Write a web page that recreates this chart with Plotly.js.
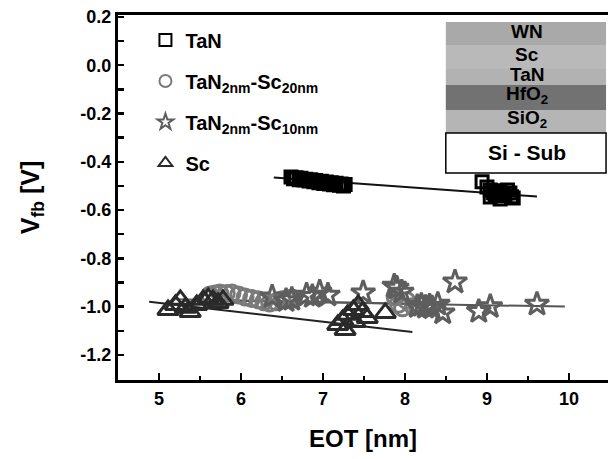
<!DOCTYPE html>
<html>
<head>
<meta charset="utf-8">
<script src="https://cdn.plot.ly/plotly-3.0.1.min.js"></script>
<style>html,body{margin:0;padding:0;background:#fff;}#chart{width:608px;height:459px;}</style>
</head>
<body>
<div id="chart"></div>
<script>
// TaN (squares)
const tanX = [6.61, 6.64, 6.67, 6.71, 6.73, 6.77, 6.79, 6.83, 6.85, 6.89, 6.91, 6.95, 6.98, 7.01, 7.04, 7.08, 7.10, 7.13, 7.16, 7.20, 7.22, 7.25, 7.27,
              8.94, 9.00, 9.04, 9.04, 9.08, 9.10, 9.13, 9.16, 9.16, 9.20, 9.22, 9.25, 9.28, 9.30, 9.32];
const tanY = [-0.463, -0.470, -0.466, -0.474, -0.468, -0.476, -0.472, -0.480, -0.474, -0.483, -0.478, -0.487, -0.481, -0.490, -0.484, -0.492, -0.487, -0.495, -0.489, -0.497, -0.492, -0.500, -0.494,
              -0.483, -0.505, -0.517, -0.546, -0.528, -0.537, -0.520, -0.525, -0.554, -0.535, -0.541, -0.517, -0.529, -0.545, -0.550];
// TaN2nm-Sc20nm (circles)
const sc20X = [5.62, 5.68, 5.74, 5.82, 5.89, 5.97, 6.05, 6.13, 6.21, 6.28, 6.35, 6.43, 6.50, 6.56, 6.62, 7.88, 7.92, 7.97, 8.02, 8.10, 8.18, 8.25];
const sc20Y = [-0.952, -0.948, -0.944, -0.946, -0.944, -0.952, -0.960, -0.966, -0.972, -0.980, -0.985, -0.980, -0.972, -0.968, -0.964, -0.960, -0.990, -1.005, -0.975, -1.000, -0.995, -0.990];
// TaN2nm-Sc10nm (stars)
const sc10X = [6.38, 6.55, 6.62, 6.80, 6.87, 6.96, 7.06, 7.49, 7.87, 7.90, 7.96, 8.15, 8.20, 8.25, 8.30, 8.33, 8.40, 8.46, 8.61, 8.90, 9.04, 9.61];
const sc10Y = [-0.960, -0.975, -0.970, -0.952, -0.958, -0.940, -0.952, -0.943, -0.915, -0.923, -0.940, -1.000, -0.995, -1.003, -0.998, -1.005, -0.990, -1.026, -0.898, -1.020, -1.000, -0.990];
// Sc (triangles)
const scX = [5.11, 5.20, 5.26, 5.32, 5.38, 5.46, 5.54, 5.60, 5.66, 5.72, 5.78, 7.18, 7.24, 7.27, 7.30, 7.37, 7.39, 7.43, 7.48, 7.54, 7.76];
const scY = [-1.014, -0.993, -0.972, -1.005, -1.022, -0.993, -0.972, -0.964, -0.972, -0.985, -0.972, -1.076, -1.055, -1.097, -1.034, -1.014, -1.064, -0.993, -1.022, -1.047, -1.026];
// fit lines
const fitTanX = [6.40, 9.61];
const fitTanY = [-0.465, -0.544];
const fitSc20X = [5.20, 8.40];
const fitSc20Y = [-0.97, -0.99];
const fitSc10X = [5.80, 9.95];
const fitSc10Y = [-0.975, -1.00];
const fitScX = [4.88, 8.09];
const fitScY = [-0.98, -1.105];
// tick labels
const yTickVals = [0.2, 0.0, -0.2, -0.4, -0.6, -0.8, -1.0, -1.2];
const yTickText = ['0.2', '0.0', '-0.2', '-0.4', '-0.6', '-0.8', '-1.0', '-1.2'];
const xTickVals = [5, 6, 7, 8, 9, 10];
const xTickText = ['5', '6', '7', '8', '9', '10'];
// stack inset labels
const stackLabels = ['WN', 'Sc', 'TaN', 'HfO<sub>2</sub>', 'SiO<sub>2</sub>', 'Si - Sub'];
const stackColors = ['#a9a9a9', '#b9b9b9', '#b2b2b2', '#727272', '#b5b5b5', '#ffffff'];
const stackBounds = [0.981, 0.918, 0.852, 0.808, 0.740, 0.677, 0.567];

const F = 'Liberation Sans, Arial, sans-serif';
const mk = (sym, col, size) => ({symbol: sym, size: size, color: col, line: {color: col, width: 3}});

const traces = [
  {x: fitTanX, y: fitTanY, mode: 'lines', line: {color: '#111', width: 2}, showlegend: false, hoverinfo: 'skip'},
  {x: fitSc20X, y: fitSc20Y, mode: 'lines', line: {color: '#666', width: 2}, showlegend: false, hoverinfo: 'skip'},
  {x: fitSc10X, y: fitSc10Y, mode: 'lines', line: {color: '#555', width: 2}, showlegend: false, hoverinfo: 'skip'},
  {x: fitScX, y: fitScY, mode: 'lines', line: {color: '#222', width: 2}, showlegend: false, hoverinfo: 'skip'},
  {x: tanX, y: tanY, mode: 'markers', name: 'TaN', legendgroup: 'a', marker: mk('square-open', '#000', 12)},
  {x: sc20X, y: sc20Y, mode: 'markers', name: 'TaN<sub>2nm</sub>-Sc<sub>20nm</sub>', legendgroup: 'b', marker: mk('circle-open', '#7a7a7a', 16)},
  {x: sc10X, y: sc10Y, mode: 'markers', name: 'TaN<sub>2nm</sub>-Sc<sub>10nm</sub>', legendgroup: 'c', marker: mk('star-open', '#5e5e5e', 18)},
  {x: scX, y: scY, mode: 'markers', name: 'Sc', legendgroup: 'd', marker: mk('triangle-up-open', '#2a2a2a', 18)}
];

const shapes = [];
const annotations = [];
for (let i = 0; i < stackLabels.length; i++) {
  const last = i === stackLabels.length - 1;
  shapes.push({type: 'rect', xref: 'paper', yref: 'paper', x0: 0.669, x1: 0.996,
    y0: stackBounds[i + 1], y1: stackBounds[i], fillcolor: stackColors[i],
    line: {color: last ? '#000' : stackColors[i], width: last ? 1.5 : 0}, layer: 'above'});
  annotations.push({xref: 'paper', yref: 'paper', x: 0.835, y: (stackBounds[i] + stackBounds[i + 1]) / 2 + (last ? 0 : 0.006),
    text: '<b>' + stackLabels[i] + '</b>', showarrow: false, font: {family: F, size: last ? 21 : 19, color: '#000'},
    xanchor: 'center', yanchor: 'middle'});
}

const layout = {
  width: 608, height: 459,
  margin: {l: 118, r: 0, t: 15, b: 79},
  paper_bgcolor: '#fff', plot_bgcolor: '#fff',
  font: {family: F, color: '#000'},
  xaxis: {range: [4.5, 10.476], tickmode: 'array', tickvals: xTickVals, ticktext: xTickText,
    ticks: 'inside', ticklen: 7, tickwidth: 2.5, tickcolor: '#000',
    showline: true, linewidth: 3, linecolor: '#000', mirror: true, showgrid: false, zeroline: false,
    minor: {dtick: 0.5, tick0: 5, ticks: 'inside', ticklen: 4, tickwidth: 2.5, tickcolor: '#000'},
    tickfont: {family: F, size: 18, color: '#000', weight: 'bold'},
    title: {text: '<b>EOT [nm]</b>', font: {family: F, size: 24, color: '#000'}, standoff: 23}},
  yaxis: {range: [-1.304, 0.208], tickmode: 'array', tickvals: yTickVals, ticktext: yTickText,
    ticks: 'inside', ticklen: 6, tickwidth: 2.5, tickcolor: '#000',
    showline: true, linewidth: 3, linecolor: '#000', mirror: true, showgrid: false, zeroline: false,
    minor: {dtick: 0.1, tick0: 0, ticks: 'inside', ticklen: 6, tickwidth: 2.5, tickcolor: '#000'},
    tickfont: {family: F, size: 18, color: '#000', weight: 'bold'},
    title: {text: '<b>V<sub>fb</sub> [V]</b>', font: {family: F, size: 25, color: '#000'}, standoff: 34}},
  showlegend: true,
  legend: {x: 0.056, y: 0.985, xanchor: 'left', yanchor: 'top', bgcolor: 'rgba(0,0,0,0)', itemsizing: 'constant',
    traceorder: 'grouped',
    font: {family: F, size: 20, color: '#000', weight: 'bold'}, tracegroupgap: 12, itemwidth: 30},
  shapes: shapes,
  annotations: annotations
};

Plotly.newPlot('chart', traces, layout, {displayModeBar: false, staticPlot: true});
</script>
</body>
</html>
